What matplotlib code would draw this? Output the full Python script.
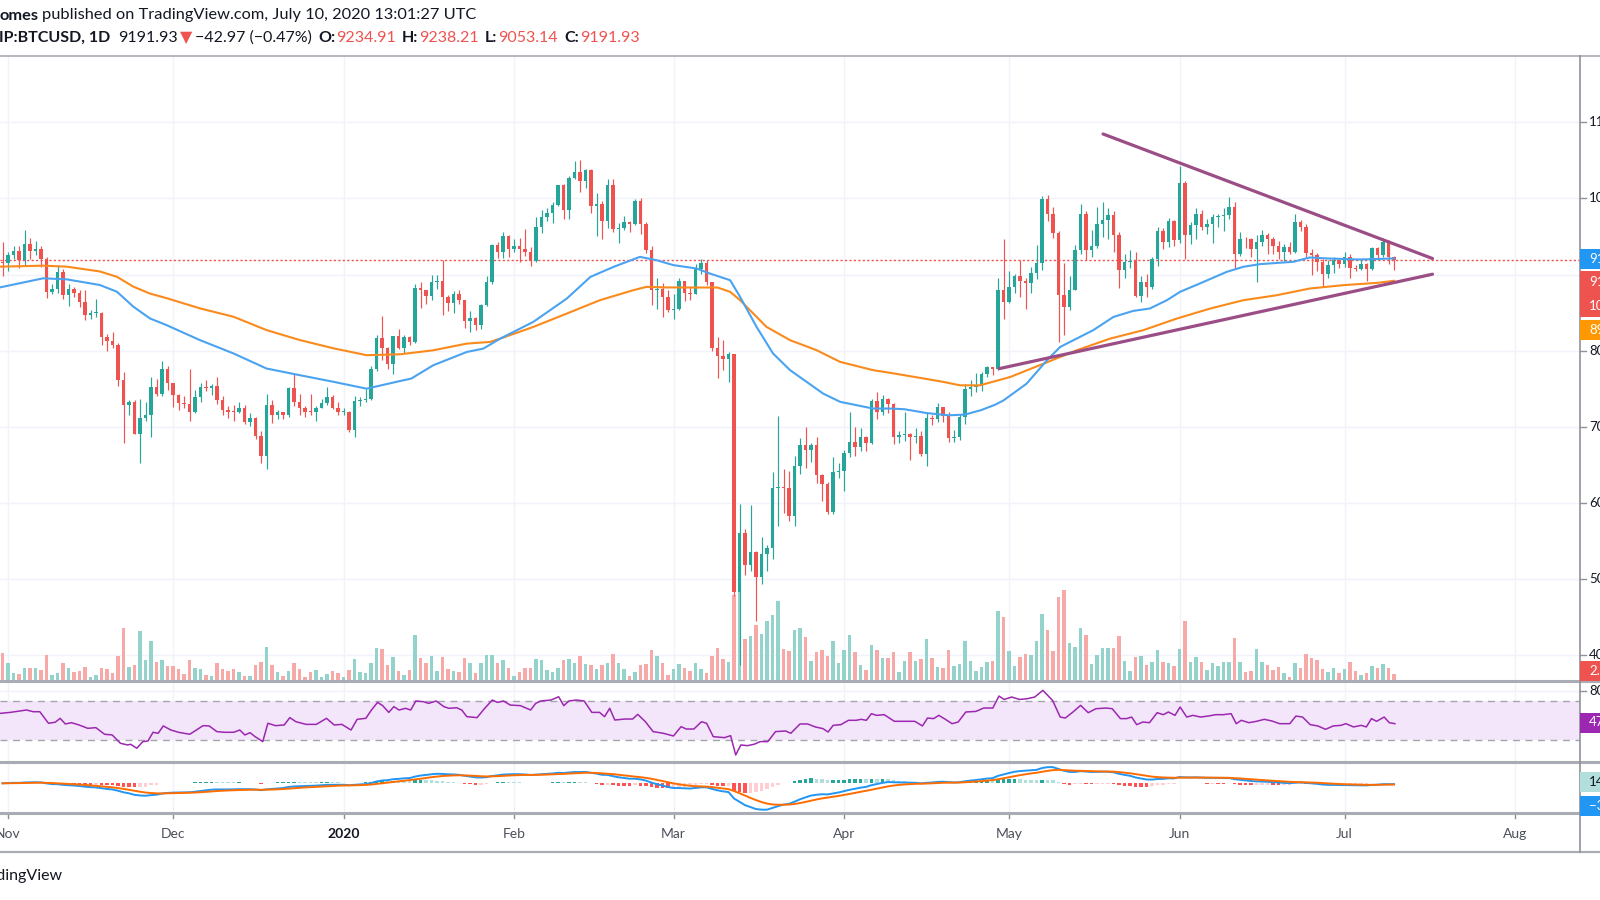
import numpy as np
import pandas as pd
import matplotlib
matplotlib.use("Agg")
import matplotlib.pyplot as plt
import matplotlib.dates as mdates
from matplotlib.patches import Rectangle
from matplotlib.lines import Line2D

# ------------------------------------------------------------------ data
first_day = "2019-10-31"
ref_day = "2019-11-01"          # day offsets below are counted from here

opens = [9170,
 9150,9250,9310,9190,9400,9310,9340,9200,8770,8810,9030,8730,8810,8760,8640,8470,8490,8500,8180,8120,8080,7620,7280,7320,6910,7120,7160,7520,7430,7760,
 7570,7420,7310,7300,7200,7390,7520,7510,7530,7350,7220,7200,7190,7250,7060,7110,6880,6620,7280,7150,7190,7150,7510,7320,7250,7200,7190,7250,7310,7390,7240,
 7190,7200,6960,7340,7350,7360,7760,8160,8040,7820,8190,8030,8180,8110,8820,8800,8720,8900,8910,8700,8630,8740,8660,8390,8430,8340,8600,8900,9390,9300,9500,
 9340,9380,9340,9290,9180,9620,9750,9810,9910,10170,9850,10270,10350,10230,10370,9900,9930,9700,10180,9600,9610,9690,9670,9960,9660,9320,8790,8810,8710,
 8540,8550,8920,8760,8750,9070,9150,8900,8040,7930,7890,7950,4830,5610,5180,5360,5030,5330,5410,6190,6200,6190,5830,6490,6760,6690,6760,6370,6250,5880,6410,
 6420,6650,6800,6740,6870,6780,7340,7200,7370,7300,6870,6890,6910,6860,6880,6640,7120,7100,7260,7140,6850,6860,7130,7490,7520,7540,7690,7780,7760,8790,
 8640,8840,8980,8910,8890,9020,9150,9990,9800,9540,8730,8570,8800,9320,9800,9320,9380,9670,9720,9780,9520,9060,9170,9180,8720,8900,8840,9200,9570,9430,9700,
 9450,10200,9520,9650,9790,9630,9660,9750,9770,9780,9890,9270,9470,9460,9340,9430,9520,9460,9380,9300,9360,9290,9690,9630,9280,9250,9160,9010,9120,9190,
 9140,9230,9090,9070,9140,9070,9350,9250,9430,9234.91]
highs = [9430,
 9290,9370,9370,9580,9480,9440,9370,9230,8880,9120,9070,8880,8840,8790,8790,8530,8680,8510,8220,8240,8100,7720,7350,7350,7360,7330,7660,7630,7870,7800,
 7580,7430,7400,7760,7480,7580,7610,7560,7660,7400,7270,7280,7320,7280,7180,7130,6940,7430,7350,7220,7190,7520,7690,7430,7270,7430,7270,7360,7520,7420,7330,
 7250,7210,7400,7390,7500,7800,8210,8460,8050,8190,8290,8200,8190,8880,8900,8800,9000,8990,9190,8730,8780,8800,8670,8520,8440,8610,8980,9400,9430,9560,9520,
 9460,9480,9600,9360,9750,9850,9870,9950,10180,10190,10290,10490,10500,10390,10390,10070,9960,10260,10260,9680,9770,9700,9990,10010,9690,9380,8960,8890,8800,
 8750,8950,8920,8850,9140,9200,9190,8900,8180,8140,7980,7960,5990,5660,5970,5370,5550,5450,6410,7140,6450,6420,6620,6850,7000,6780,6870,6380,6270,6600,6530,
 6700,7200,7000,6990,6880,7360,7460,7420,7380,7310,6950,7200,6920,6980,6950,7200,7160,7310,7260,7200,6960,7170,7560,7620,7700,7720,7800,7790,8960,9460,
 9050,9010,9190,8950,9100,9390,10030,10040,9890,9570,9150,8980,9390,9930,9840,9580,9890,9950,9880,9830,9560,9270,9320,9300,8980,9010,9230,9620,9610,9740,9710,
 10430,10230,9690,9880,9850,9730,9790,9800,9880,10020,9950,9560,9490,9480,9520,9580,9550,9490,9440,9400,9430,9790,9720,9670,9330,9280,9200,9190,9230,9200,
 9300,9270,9130,9190,9150,9360,9360,9480,9450,9238.21]
lows = [8980,
 9040,9210,9080,9120,9200,9250,9100,8690,8740,8760,8680,8580,8710,8570,8400,8420,8440,8080,8000,8030,7530,6790,7160,6900,6520,7070,6860,7400,7410,7480,
 7260,7220,7250,7080,7180,7320,7470,7420,7300,7160,7120,7080,7180,7030,7010,6840,6520,6440,7050,7100,7100,7130,7270,7160,7130,7150,7070,7240,7290,7230,7160,
 7150,6930,6860,7270,7320,7350,7730,7880,7760,7690,8020,7970,8070,8100,8560,8610,8660,8810,8470,8520,8500,8610,8300,8250,8270,8290,8580,8880,9220,9220,9230,
 9300,9160,9240,9110,9160,9540,9700,9680,9900,9730,9730,10250,10090,10130,9810,9500,9460,9610,9560,9410,9580,9560,9650,9530,9280,8600,8550,8440,8510,
 8420,8530,8650,8660,8740,9010,8860,8000,7640,7740,7590,4780,3870,5050,5100,4450,4930,5100,5260,5700,5870,5760,5700,6380,6460,6540,6260,6030,5860,5860,6330,
 6150,6600,6610,6680,6680,6770,7100,7150,7180,6770,6780,6810,6560,6780,6620,6480,7020,7060,7060,6800,6800,6830,7040,7410,7460,7470,7650,7680,7740,8420,
 8620,8760,8710,8550,8760,8940,9060,9700,9480,8110,8200,8540,8790,9270,9190,9230,9350,9490,9470,9300,8820,8950,9090,8710,8640,8710,8810,9110,9330,9360,9380,
 9420,9200,9400,9460,9580,9530,9410,9630,9570,9730,9090,9240,9350,9230,8900,9370,9270,9270,9200,9180,9270,9280,9570,9230,9000,9040,8840,8950,9020,9080,
 9100,8950,9040,9060,8920,9060,9220,9230,9140,9053.14]
closes = [9150,
 9250,9310,9190,9400,9310,9340,9200,8770,8810,9030,8730,8810,8760,8640,8470,8490,8500,8180,8120,8080,7620,7280,7320,6910,7120,7160,7520,7430,7760,7570,
 7420,7310,7300,7200,7390,7520,7510,7530,7350,7220,7200,7190,7250,7060,7110,6880,6620,7280,7150,7190,7150,7510,7320,7250,7200,7190,7250,7310,7390,7240,7190,
 7200,6960,7340,7350,7360,7760,8160,8040,7820,8190,8030,8180,8110,8820,8800,8720,8900,8910,8700,8630,8740,8660,8390,8430,8340,8600,8900,9390,9300,9500,9340,
 9380,9340,9290,9180,9620,9750,9810,9910,10170,9850,10270,10350,10230,10370,9900,9930,9700,10180,9600,9610,9690,9670,9960,9660,9320,8790,8810,8710,8540,
 8550,8920,8760,8750,9070,9150,8900,8040,7930,7890,7950,4830,5610,5180,5360,5030,5330,5410,6190,6200,6190,5830,6490,6760,6690,6760,6370,6250,5880,6410,6420,
 6650,6800,6740,6870,6780,7340,7200,7370,7300,6870,6890,6910,6860,6880,6640,7120,7100,7260,7140,6850,6860,7130,7490,7520,7540,7690,7780,7760,8790,8640,
 8840,8980,8910,8890,9020,9150,9990,9800,9540,8730,8570,8800,9320,9800,9320,9380,9670,9720,9780,9520,9060,9170,9180,8720,8900,8840,9200,9570,9430,9700,9450,
 10200,9520,9650,9790,9630,9660,9750,9770,9780,9890,9270,9470,9460,9340,9430,9520,9460,9380,9300,9360,9290,9690,9630,9280,9250,9160,9010,9120,9190,9140,
 9230,9090,9070,9140,9070,9350,9250,9430,9235,9191.93]
volumes = [27.7,
 18.3,7.7,7,13.3,13.3,13.3,11,26,6.3,7.7,17.7,12.7,9.3,9.7,14,3.7,5.7,13.3,12.3,8.3,25.3,53.3,14.3,16.3,50,20.7,40,18.7,20.7,14.7,
 14.7,11.7,7,20.7,13,11.7,5.7,4.7,18.3,11.7,10,12,9,5.3,4.7,16.3,19.3,34.3,16.3,9,5.3,10.3,18.3,11.7,4.3,9.3,11,4,7,10.3,7.7,
 3.7,11,22,9.3,7.7,18.3,32.7,32,16.3,24,10.3,5.7,11,46,23.3,18.3,25.3,10.3,24,12,9.7,9,23.3,17.7,7.7,17.7,26,26,17.7,21.3,13.3,
 5,8.7,13,13.3,22,20.7,11,9.3,13.3,20.7,22,18.3,25.3,17,15.7,11.7,16.3,18.3,26.7,18.3,11.7,5.3,9,16.3,17,31.3,25.3,17.7,6.3,
 11.7,17,12.7,10,18.3,11.7,7.7,25.3,32.7,22,19.3,86,90,42,45,56,47,60,66,80,32,30,51,53,44,20,29,31,25,40,18,
 31,46,29,16,11,36,31,23,23,29,9,20,29,20,22,42,23,14,13,31,15,17,40,20,10,14,19,20,70,64,
 30,15,24,27,26,40,67,51,30,84,91,38,34,53,46,17,26,33,33,33,45,20,10,24,25,16,19,31,19,18,15,
 32,60,19,24,19,11,18,15,19,19,43,19,9,10,32,19,16,11,14,8,4,18,13,27,23,21,12,9,13,8,
 12,19,10,6,8,15,13,17,13,7]

# moving averages: (day offset, value)
ma_fast_points = [(-1.5,8830),(6.4,8950),(10.7,8936),(16.7,8862),(19.8,8774),(22.8,8577),(25.8,8423),
 (28.8,8336),(34.9,8138),(41.0,7963),(47.0,7765),(53.0,7678),(59.2,7590),(65.2,7500),(71.3,7601),
 (73.3,7632),(77.3,7807),(83.4,7982),(86.4,8026),(89.5,8158),(95.5,8377),(101.6,8684),(105.9,8969),
 (110.1,9100),(114.9,9232),(117.9,9188),(121.0,9123),(125.2,9079),(127.6,9013),(131.3,8925),
 (133.1,8707),(136.1,8312),(139.1,7962),(142.2,7743),(145.2,7590),(148.2,7436),(151.3,7327),
 (154.3,7283),(157.3,7239),(160.4,7239),(163.0,7230),(167.0,7180),(171.0,7150),(174.0,7160),
 (177.0,7220),(179.5,7290),(181.0,7346),(185.2,7566),(188.9,7873),(191.3,8048),(194.3,8158),
 (197.3,8268),(201.0,8443),(204.6,8522),(207.6,8553),(210.7,8662),(213.1,8772),(216.7,8882),
 (221.6,9035),(224.6,9101),(227.6,9136),(233.7,9167),(236.7,9224),(239.8,9211),(245.8,9197),(252.0,9211)]
ma_slow_points = [(-1.5,9103),(6.4,9116),(10.7,9103),(16.7,9040),(19.8,8970),(22.8,8840),(25.8,8750),
 (28.8,8690),(34.9,8555),(41.0,8445),(47.0,8270),(53.0,8140),(59.2,8030),(65.2,7940),(71.3,7952),
 (77.3,8004),(83.4,8092),(87.6,8114),(89.5,8158),(95.5,8311),(101.6,8487),(107.6,8662),(113.7,8794),
 (116.1,8838),(119.8,8830),(125.2,8829),(129.0,8829),(131.3,8772),(133.1,8663),(137.9,8312),
 (142.2,8137),(147.0,8006),(151.3,7852),(157.3,7743),(160.4,7708),(166.0,7640),(170.0,7590),
 (173.1,7544),(176.7,7544),(182.2,7653),(188.3,7829),(194.3,8004),(200.4,8158),(206.4,8268),
 (212.5,8421),(218.6,8553),(224.6,8662),(230.7,8728),(236.7,8816),(242.8,8860),(248.9,8890),(252.0,8917)]

rsi_points = [(-1.46,57.2),(0.40,58.2),(2.07,59.6),(3.37,60.6),(4.58,58.9),(5.78,58.9),(7.36,47.2),(8.56,48.2),
 (9.49,52.2),(10.42,46.5),(11.53,47.8),(12.92,45.5),(14.50,42.1),(15.98,42.8),(17.56,36.1),(18.95,35.4),
 (20.44,27.0),(21.74,25.3),(22.29,26.0),(23.41,22.0),(24.52,28.7),(25.45,29.3),(26.37,38.1),(27.30,37.1),
 (28.23,44.5),(29.62,40.4),(31.01,38.1),(33.05,36.1),(34.26,40.4),(35.47,44.8),(36.58,44.5),(37.97,38.8),
 (39.36,38.1),(41.03,38.1),(42.14,40.4),(43.07,35.4),(44.00,37.7),(44.93,33.7),(46.32,28.7),(47.25,47.2),
 (48.64,44.8),(50.22,45.5),(51.24,52.9),(52.35,48.8),(54.20,46.1),(56.06,46.1),(57.91,52.2),(59.30,45.5),
 (60.70,46.1),(62.37,40.4),(63.48,51.2),(65.06,52.2),(66.08,60.6),(67.19,68.3),(68.12,65.0),(69.23,58.2),
 (70.16,64.0),(71.09,60.6),(72.29,62.3),(73.22,60.6),(74.15,69.7),(75.54,69.0),(76.47,67.3),(77.86,69.7),
 (79.25,64.0),(80.18,62.3),(81.57,62.9),(82.50,60.6),(83.42,53.9),(85.28,52.9),(86.67,62.3),(88.06,70.7),
 (88.99,68.3),(90.10,69.7),(91.31,65.6),(93.17,65.0),(95.02,60.6),(95.95,67.3),(96.88,69.7),(98.73,70.7),
 (100.12,74.0),(101.05,65.0),(101.98,69.7),(103.37,70.7),(104.76,69.7),(106.15,58.2),(107.55,58.2),
 (108.47,53.9),(109.40,62.3),(110.33,50.5),(112.18,51.5),(113.57,51.5),(114.50,56.2),(115.89,48.8),
 (117.29,38.8),(119.14,37.1),(120.99,34.4),(122.38,43.8),(123.31,41.4),(124.70,41.4),(126.10,48.8),
 (127.02,47.2),(128.23,33.7),(130.27,32.7),(131.38,34.7),(132.31,15.2),(133.24,25.3),(134.44,24.6),
 (135.65,26.0),(136.76,28.7),(138.15,28.7),(139.55,38.8),(141.40,39.4),(142.33,37.1),
 (144.00,46.5),(145.39,46.5),(146.78,43.5),(148.17,41.8),(149.10,38.4),(150.03,45.1),(151.42,45.8),
 (152.81,50.2),(154.20,50.2),(155.13,51.2),(156.06,50.2),(156.99,56.9),(157.91,55.2),(159.31,55.9),
 (161.16,49.2),(162.55,49.2),(164.87,49.2),(166.26,44.5),(167.19,52.5),(168.30,51.9),(169.23,55.2),
 (170.44,51.2),(171.64,46.8),(172.76,48.5),(174.15,58.6),(176.00,59.2),(177.40,62.6),(179.06,62.6),
 (180.18,74.7),(181.11,71.3),(182.50,73.7),(183.89,71.3),(185.28,72.0),(186.67,73.7),(188.16,80.4),
 (189.92,70.3),(191.31,53.5),(192.24,52.5),(193.63,58.6),(195.02,65.3),(196.41,57.9),(197.80,61.9),
 (199.66,62.6),(200.77,61.9),(202.26,51.9),(203.37,51.9),(204.30,53.5),(205.22,45.8),(206.34,48.5),
 (207.54,47.8),(208.94,57.9),(210.05,55.9),(210.98,58.6),(212.18,55.2),(213.11,63.6),(214.32,53.5),
 (215.43,55.2),(216.82,53.5),(218.21,54.5),(219.60,55.9),(220.99,55.9),(222.39,56.9),(223.31,46.8),
 (224.24,50.2),(225.63,47.8),(227.02,49.2),(228.42,51.2),(229.81,49.5),(231.20,46.8),(233.05,46.8),
 (234.17,54.5),(235.37,53.5),(236.77,45.8),(238.16,44.5),(239.55,41.1),(240.94,44.5),(242.33,45.1),
 (243.26,46.8),(244.65,43.5),(246.04,45.1),(246.97,43.5),(247.90,51.9),(248.83,49.2),(250.22,53.5),
 (251.14,47.8),(252.16,46.8)]

tri_upper = [(199.1, 10846), (259.0, 9210)]
tri_lower = [(180.2, 7763), (259.0, 9004)]
last_price = 9191.93
grid_prices = [4000, 5000, 6000, 7000, 8000, 9000, 10000, 11000]
price_ticks = [4000, 5000, 6000, 7000, 8000, 10000, 11000]      # 9000 sits under the value labels
price_tick_labels = ["4000", "5000", "6000", "7000", "8000", "10000", "11000"]
month_starts = ["2019-11-01", "2019-12-01", "2020-01-01", "2020-02-01", "2020-03-01",
                "2020-04-01", "2020-05-01", "2020-06-01", "2020-07-01", "2020-08-01"]
month_labels = ["Nov", "Dec", "2020", "Feb", "Mar", "Apr", "May", "Jun", "Jul", "Aug"]

# ------------------------------------------------------------------ style
W, H = 1600, 900
plt.rcParams['font.family'] = ['Lato', 'DejaVu Sans']
UP, DN = '#26a69a', '#ef5350'
UPV, DNV = '#93d3cc', '#f7a9a7'
GRID = '#f0f3fa'
TXT = '#131722'
SEP = '#a9acb4'

fig = plt.figure(figsize=(16, 9), dpi=100)
fig.patch.set_facecolor('white')

def fy(py):
    return 1 - py / H

def rect(top, bottom, right=1580):
    return [0, fy(bottom), right / W, (bottom - top) / H]

x0 = mdates.date2num(pd.Timestamp(ref_day))
dates = pd.date_range(first_day, periods=len(closes), freq="D")
xd = mdates.date2num(dates)
XLIM = (x0 - 8 / 5.5, x0 + 1572 / 5.5)
mx = mdates.date2num(pd.to_datetime(month_starts))

o = np.array(opens, float); hi = np.array(highs, float)
lo = np.array(lows, float); c = np.array(closes, float)
v = np.array(volumes, float)
up = c >= o
col = np.where(up, UP, DN)

def clean(a):
    a.set_xlim(*XLIM)
    a.set_xticks([]); a.set_yticks([])
    for s in a.spines.values():
        s.set_visible(False)
    a.patch.set_visible(False)

# ---------------- price panel (volume underneath)
axv = fig.add_axes(rect(56, 681))
ax = fig.add_axes(rect(56, 681))
clean(axv); clean(ax)
ax.set_ylim(3659.7, 11870.5)
axv.set_ylim(0, 625)

for m in mx:
    axv.axvline(m, color=GRID, lw=1.0, zorder=0)
for p in grid_prices:
    axv.add_line(Line2D([XLIM[0], XLIM[1]], [p, p], transform=ax.transData, color=GRID, lw=1.0, zorder=0))

axv.bar(xd, v, width=0.66, color=np.where(up, UPV, DNV), linewidth=0, zorder=1)

ax.axhline(last_price, color=DN, lw=1.0, ls=(0, (1.6, 1.6)), zorder=2)
ax.vlines(xd, lo, hi, colors=col, lw=0.85, zorder=3)
body_low = np.minimum(o, c)
body_h = np.maximum(np.abs(c - o), 12)
ax.bar(xd, body_h, bottom=body_low, width=0.72, color=col, linewidth=0, zorder=4)

fd, fv = zip(*ma_fast_points)
sd, sv = zip(*ma_slow_points)
ax.plot(x0 + np.array(sd), sv, color='#fb8a1c', lw=1.5, zorder=5, solid_joinstyle='round')
ax.plot(x0 + np.array(fd), fv, color='#4aa3f0', lw=1.5, zorder=5, solid_joinstyle='round')

for seg in (tri_upper, tri_lower):
    sdays, svals = zip(*seg)
    ax.plot(x0 + np.array(sdays), svals, color='#9b4d86', lw=2.3, zorder=6, solid_capstyle='round')

# ---------------- RSI panel
ax2 = fig.add_axes(rect(681, 762))
clean(ax2)
ax2.set_ylim(8.1, 89.9)
for m in mx:
    ax2.axvline(m, color=GRID, lw=1.0, zorder=0)
ax2.axhline(80, color=GRID, lw=1.0, zorder=0)
ax2.axhspan(30, 70, color='#f3e6fa', zorder=0.5, lw=0)
ax2.axhline(70, color='#a3a6af', lw=1.0, ls=(0, (5, 4)), zorder=1)
ax2.axhline(30, color='#a3a6af', lw=1.0, ls=(0, (5, 4)), zorder=1)
rd, rv = zip(*rsi_points)
ax2.plot(x0 + np.array(rd), rv, color='#9c27b0', lw=1.1, zorder=3)

# ---------------- MACD panel (12, 26, 9 computed from the closes)
ax3 = fig.add_axes(rect(762, 813))
clean(ax3)
ax3.set_ylim(-1218, 873)
for m in mx:
    ax3.axvline(m, color=GRID, lw=1.0, zorder=0)
cs = pd.Series(c)
macd = cs.ewm(span=12, adjust=False).mean() - cs.ewm(span=26, adjust=False).mean()
signal = macd.ewm(span=9, adjust=False).mean()
hist = (macd - signal).values
prev = np.r_[hist[0], hist[:-1]]
hcol = np.where(hist >= 0, np.where(hist >= prev, '#26a69a', '#b2dfdb'),
                np.where(hist <= prev, '#ff5252', '#ffcdd2'))
ax3.bar(xd, hist, width=0.66, color=hcol, linewidth=0, zorder=1)
ax3.plot(xd, macd.values, color='#2196f3', lw=1.4, zorder=3)
ax3.plot(xd, signal.values, color='#ff6d00', lw=1.4, zorder=3)

# time axis labels
xt = ax3.get_xaxis_transform()
for m, lab in zip(mx, month_labels):
    ax3.plot([m, m], [0, -5 / 51], transform=xt, color='#8a8d96', lw=1.0, clip_on=False)
    ax3.text(m, -21 / 51, lab, transform=xt, ha='center', va='center', fontsize=10,
             color='#4c505b' if lab != '2020' else TXT,
             fontweight='bold' if lab == '2020' else 'normal', clip_on=False)

# ---------------- frame lines
def hline(py, lw, color=SEP, x1=1.0):
    fig.add_artist(Line2D([0, x1], [fy(py), fy(py)], transform=fig.transFigure, color=color, lw=lw))

hline(56, 1.2)
hline(681, 2.2)
hline(762, 2.2)
hline(813, 2.2)
hline(852, 1.6)
fig.add_artist(Line2D([1580 / W, 1580 / W], [fy(56), fy(852)], transform=fig.transFigure, color='#8f929b', lw=1.2))

# ---------------- right price scale
yt = ax.get_yaxis_transform()
for p in grid_prices:
    ax.plot([1.0, 1.0038], [p, p], transform=yt, color='#8f929b', lw=1.0, clip_on=False)
for p, lab in zip(price_ticks, price_tick_labels):
    ax.text(1.0057, p, lab, transform=yt, ha='left', va='center', fontsize=9.5, color=TXT, clip_on=False)
yt2 = ax2.get_yaxis_transform()
ax2.plot([1.0, 1.0038], [80, 80], transform=yt2, color='#8f929b', lw=1.0, clip_on=False)
ax2.text(1.0057, 80, "80", transform=yt2, ha='left', va='center', fontsize=9.5, color=TXT, clip_on=False)

def box(ycen, hgt, color, lines, tcolor='white'):
    fig.add_artist(Rectangle((1580 / W, fy(ycen + hgt / 2)), 30 / W, hgt / H,
                             transform=fig.transFigure, color=color, lw=0, zorder=10))
    for ty, s in lines:
        fig.text(1589 / W, fy(ty), s, ha='left', va='center', fontsize=9.5, color=tcolor, zorder=11)

box(259, 20, '#2196f3', [(259, "9197.52")])
box(294, 46, '#ef5350', [(282, "9191.93"), (306, "10:58:33")])
box(330, 20, '#ff9800', [(330, "8917.43")])
box(671, 20, '#ef5350', [(671, "2.71K")])
box(722.5, 20, '#9c27b0', [(722.5, "47.15")])
box(781.5, 20, '#b2dfdb', [(781.5, "14.73")], tcolor=TXT)
box(806, 20, '#2196f3', [(806, "−33.41")])

# ---------------- header text
renderer = fig.canvas.get_renderer()

def chain(parts, xstart, ymid, size, xend):
    def place(sz, scale):
        arts, x = [], xstart
        for s, colr, wt, gap in parts:
            x += gap * scale
            t = fig.text(x / W, fy(ymid), s, fontsize=sz, color=colr, fontweight=wt,
                         ha='left', va='center')
            x += t.get_window_extent(renderer).width
            arts.append(t)
        return arts, x
    arts, xe = place(size, 1.0)
    k = (xend - xstart) / (xe - xstart)
    for a in arts:
        a.remove()
    place(size * k, k)

chain([("omes", TXT, 'bold', 0),
       ("published on TradingView.com, July 10, 2020 13:01:27 UTC", TXT, 'normal', 4)],
      -1, 15.5, 11.5, 476)
chain([("IP:BTCUSD, 1D", TXT, 'bold', 0),
       ("9191.93", TXT, 'normal', 8),
       ("▼", DN, 'normal', 2),
       ("−42.97 (−0.47%)", TXT, 'normal', 3),
       ("O:", TXT, 'bold', 6), ("9234.91", DN, 'normal', 1),
       ("H:", TXT, 'bold', 6), ("9238.21", DN, 'normal', 1),
       ("L:", TXT, 'bold', 6), ("9053.14", DN, 'normal', 1),
       ("C:", TXT, 'bold', 6), ("9191.93", DN, 'normal', 1)],
      -1, 38, 11.5, 641)

fig.text(63 / W, fy(876), "TradingView", ha='right', va='center', fontsize=11.5, color=TXT)

fig.savefig("out.png", dpi=100, facecolor='white')
